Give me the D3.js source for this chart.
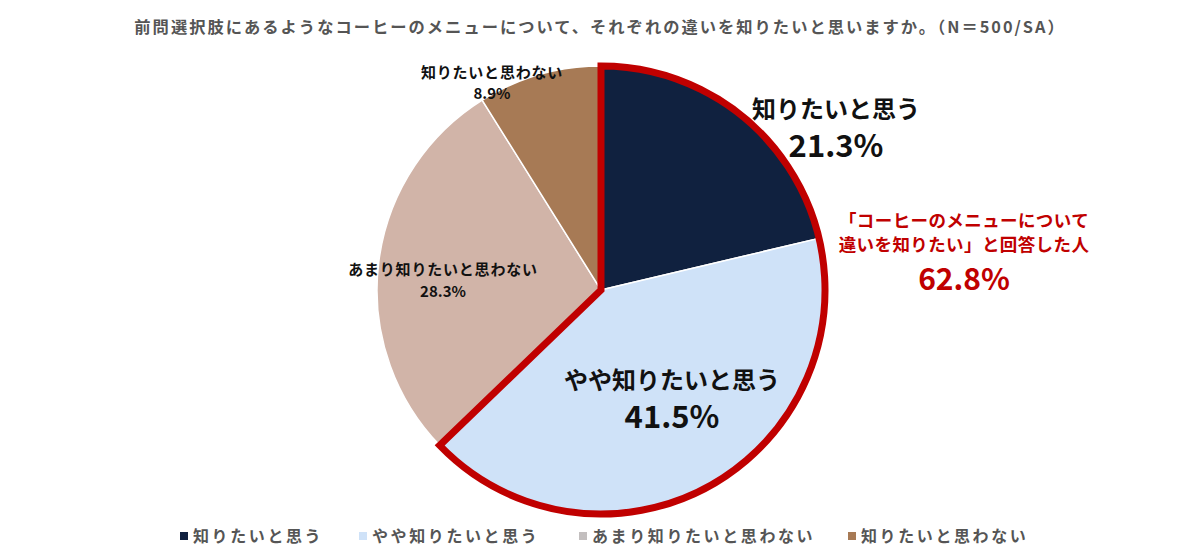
<!DOCTYPE html>
<html><head><meta charset="utf-8">
<script src="https://cdn.jsdelivr.net/npm/d3@7"></script>
<style>
html,body{margin:0;padding:0;background:#fff;}
svg{display:block;font-family:"Noto Sans CJK JP","Noto Sans",sans-serif;}
</style></head>
<body><svg id="c" width="1200" height="560"></svg>
<script>
const categories = ["知りたいと思う","やや知りたいと思う","あまり知りたいと思わない","知りたいと思わない"];
const values = [21.3, 41.5, 28.3, 8.9];
const colors = ["#10213f","#cfe2f8","#d1b4a8","#a77a55"];
const legendColors = ["#10213f","#cfe2f8","#c3bfbf","#a77a55"];
const title = "前問選択肢にあるようなコーヒーのメニューについて、それぞれの違いを知りたいと思いますか。（N＝500/SA）";
const highlightText = ["「コーヒーのメニューについて","違いを知りたい」と回答した人"];
const highlightValue = "62.8%";

const svg = d3.select("#c");
const cx = 601, cy = 290, R = 224;

svg.append("text").attr("x",600).attr("y",33).attr("text-anchor","middle")
  .attr("font-size",16.3).attr("font-weight",700).attr("fill","#555")
  .attr("letter-spacing",2).text(title);

const pie = d3.pie().sort(null).value(d=>d);
const arcs = pie(values);
const arc = d3.arc().innerRadius(0).outerRadius(R);
const g = svg.append("g").attr("transform",`translate(${cx},${cy})`);
g.selectAll("path.s").data(arcs).enter().append("path").attr("class","s")
  .attr("d",arc).attr("fill",(d,i)=>colors[i]).attr("stroke","#fff").attr("stroke-width",1.5);

// highlight outline for first two slices
const hl = d3.arc().innerRadius(0).outerRadius(R)({startAngle:arcs[0].startAngle,endAngle:arcs[1].endAngle});
g.append("path").attr("d",hl).attr("fill","none").attr("stroke","#c00000")
  .attr("stroke-width",7).attr("stroke-linejoin","miter");

// labels
const labels = [
  {x:836,y:118,s1:24,ls1:0,y2:157,s2:31,fill:"#111"},
  {x:672,y:389,s1:24,ls1:0,y2:428,s2:31,fill:"#111"},
  {x:443,y:275,s1:15,ls1:0.8,y2:297,s2:15,fill:"#111"},
  {x:492,y:78,s1:15,ls1:0.8,y2:99,s2:15,fill:"#111"}
];
labels.forEach((l,i)=>{
  svg.append("text").attr("x",l.x).attr("y",l.y).attr("text-anchor","middle")
    .attr("font-size",l.s1).attr("font-weight",700).attr("fill",l.fill)
    .attr("letter-spacing",l.ls1).text(categories[i]);
  svg.append("text").attr("x",l.x).attr("y",l.y2).attr("text-anchor","middle")
    .attr("font-size",l.s2).attr("font-weight",700).attr("fill",l.fill).text(d3.format(".1f")(values[i])+"%");
});

// red annotation
svg.append("text").attr("x",964).attr("y",227).attr("text-anchor","middle")
  .attr("font-size",17.5).attr("font-weight",700).attr("fill","#c00000").attr("letter-spacing",0.4).text(highlightText[0]);
svg.append("text").attr("x",964).attr("y",251).attr("text-anchor","middle")
  .attr("font-size",17.5).attr("font-weight",700).attr("fill","#c00000").attr("letter-spacing",0.4).text(highlightText[1]);
svg.append("text").attr("x",964).attr("y",290).attr("text-anchor","middle")
  .attr("font-size",30).attr("font-weight",700).attr("fill","#c00000").text(highlightValue);

// legend
const legX = [180, 359, 579, 848];
categories.forEach((c,i)=>{
  svg.append("rect").attr("x",legX[i]).attr("y",532).attr("width",8).attr("height",8).attr("fill",legendColors[i]);
  svg.append("text").attr("x",legX[i]+13).attr("y",542).attr("font-size",16).attr("font-weight",700)
    .attr("letter-spacing",2.6).attr("fill","#555").text(c);
});
</script></body></html>
